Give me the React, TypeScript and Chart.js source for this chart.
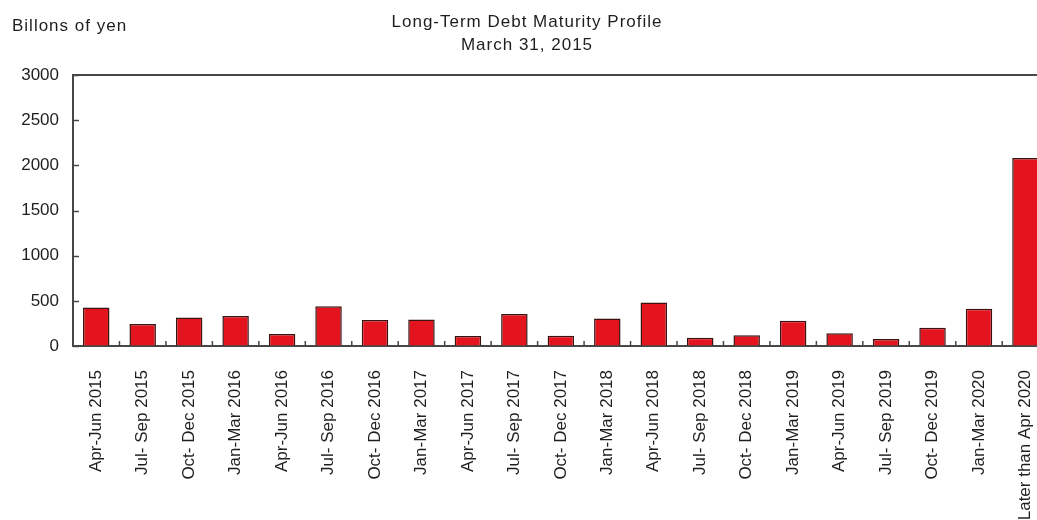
import React, { useEffect, useRef } from "react";
import { Chart, registerables } from "chart.js";

Chart.register(...registerables);

const categories = [
  "Apr-Jun 2015", "Jul- Sep 2015", "Oct- Dec 2015", "Jan-Mar 2016",
  "Apr-Jun 2016", "Jul- Sep 2016", "Oct- Dec 2016", "Jan-Mar 2017",
  "Apr-Jun 2017", "Jul- Sep 2017", "Oct- Dec 2017", "Jan-Mar 2018",
  "Apr-Jun 2018", "Jul- Sep 2018", "Oct- Dec 2018", "Jan-Mar 2019",
  "Apr-Jun 2019", "Jul- Sep 2019", "Oct- Dec 2019", "Jan-Mar 2020",
  "Later than Apr 2020",
];

const debtValues = [
  427, 243, 316, 331, 132, 441, 287, 294, 110, 353, 114,
  305, 482, 92, 118, 279, 140, 77, 202, 411, 2080,
];

const yTickValues = [0, 500, 1000, 1500, 2000, 2500, 3000];

const titleLines = ["Long-Term Debt Maturity Profile", "March 31, 2015"];
const unitLabel = "Billons of yen";

const FONT = '"Liberation Sans", Arial, Helvetica, sans-serif';
const TEXT_COLOR = "#1e1e1e";
const AXIS_COLOR = "#474747";
const CANVAS_W = 1070;
const CANVAS_H = 560;

export default function App() {
  const ref = useRef<HTMLCanvasElement>(null);

  useEffect(() => {
    if (!ref.current) return;

    const decorPlugin = {
      id: "decor",
      afterDatasetsDraw(chart: any) {
        const { ctx, chartArea, scales } = chart;
        const x = scales.x;
        const y = scales.y;
        ctx.save();
        ctx.strokeStyle = AXIS_COLOR;
        ctx.lineWidth = 1.5;
        yTickValues.forEach((v) => {
          const py = Math.round(y.getPixelForValue(v)) + 0.5;
          ctx.beginPath();
          ctx.moveTo(chartArea.left, py);
          ctx.lineTo(chartArea.left + 6, py);
          ctx.stroke();
        });
        for (let i = 1; i < categories.length; i++) {
          const px = x.getPixelForValue(i - 0.5);
          ctx.beginPath();
          ctx.moveTo(px, chartArea.bottom);
          ctx.lineTo(px, chartArea.bottom - 5);
          ctx.stroke();
        }
        ctx.lineWidth = 2;
        ctx.beginPath();
        ctx.moveTo(chartArea.left, chartArea.top);
        ctx.lineTo(chartArea.right, chartArea.top);
        ctx.lineTo(chartArea.right, chartArea.bottom);
        ctx.stroke();
        ctx.restore();
      },
      afterDraw(chart: any) {
        const ctx = chart.ctx;
        ctx.save();
        ctx.fillStyle = TEXT_COLOR;
        ctx.font = `17px ${FONT}`;
        ctx.textBaseline = "alphabetic";
        (ctx as any).letterSpacing = "1px";
        ctx.textAlign = "center";
        ctx.fillText(titleLines[0], 527, 27);
        ctx.fillText(titleLines[1], 527, 50);
        ctx.textAlign = "left";
        ctx.fillText(unitLabel, 12, 31);
        ctx.restore();
      },
    };

    const chart = new Chart(ref.current, {
      type: "bar",
      data: {
        labels: categories,
        datasets: [
          {
            data: debtValues,
            backgroundColor: "#e3141d",
            borderColor: "#3a1212",
            borderWidth: 1.5,
            categoryPercentage: 1,
            barPercentage: 0.57,
          },
        ],
      },
      options: {
        animation: false,
        responsive: false,
        devicePixelRatio: 1,
        layout: { padding: { top: 75, left: 0, right: 6, bottom: 0 } },
        plugins: {
          legend: { display: false },
          title: { display: false },
          tooltip: { enabled: false },
        },
        scales: {
          x: {
            grid: { display: true, drawOnChartArea: false, drawTicks: false },
            border: { display: true, color: AXIS_COLOR, width: 2 },
            ticks: {
              autoSkip: false,
              minRotation: 90,
              maxRotation: 90,
              padding: 24,
              color: TEXT_COLOR,
              font: { family: FONT, size: 17 },
            },
            afterFit(scale: any) {
              scale.height = CANVAS_H - 346;
            },
          },
          y: {
            min: 0,
            max: 3000,
            grid: { display: true, drawOnChartArea: false, drawTicks: false },
            border: { display: true, color: AXIS_COLOR, width: 2 },
            ticks: {
              stepSize: 500,
              padding: 14,
              color: TEXT_COLOR,
              font: { family: FONT, size: 17 },
              callback: (v: any) => String(v),
            },
            afterFit(scale: any) {
              scale.width = 73;
            },
          },
        },
      },
      plugins: [decorPlugin],
    });

    return () => chart.destroy();
  }, []);

  return (
    <div
      style={{
        position: "fixed",
        left: 0,
        top: 0,
        width: 1037,
        height: 520,
        overflow: "hidden",
        background: "#fff",
      }}
    >
      <canvas
        ref={ref}
        width={CANVAS_W}
        height={CANVAS_H}
        style={{ display: "block", width: CANVAS_W, height: CANVAS_H }}
      />
    </div>
  );
}
